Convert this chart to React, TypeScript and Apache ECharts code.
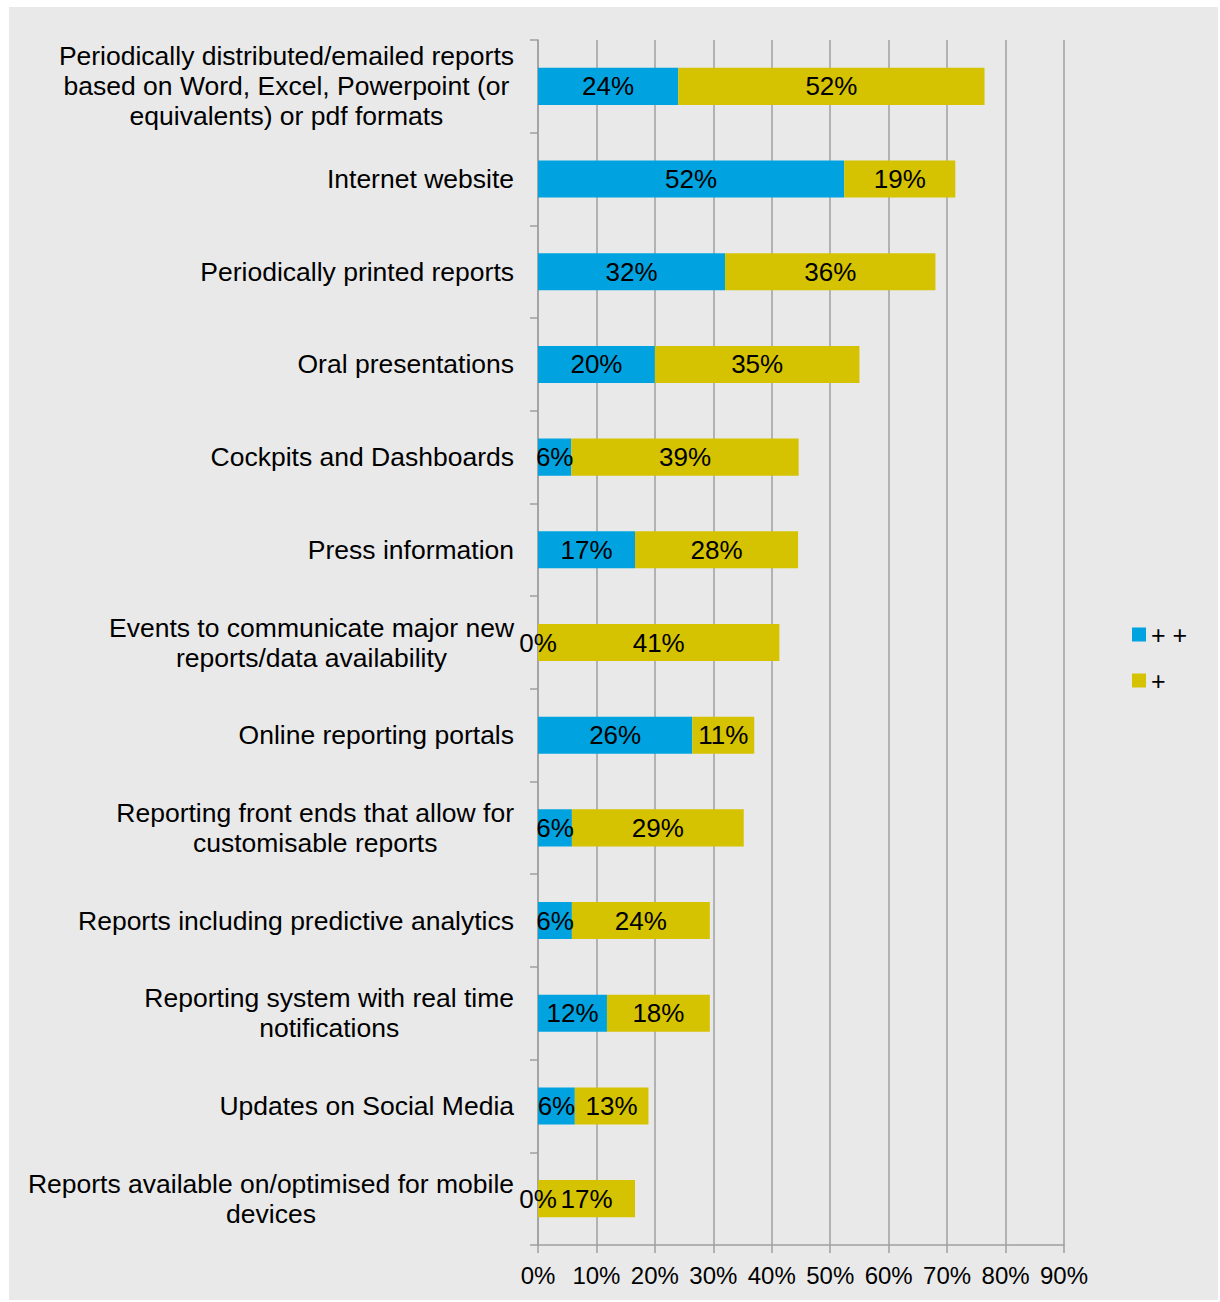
import React, { useEffect, useRef } from "react";
import * as echarts from "echarts";

const categories: string[] = [
  "Periodically distributed/emailed reports\nbased on Word, Excel, Powerpoint (or\nequivalents) or pdf formats",
  "Internet website",
  "Periodically printed reports",
  "Oral presentations",
  "Cockpits and Dashboards",
  "Press information",
  "Events to communicate major new\nreports/data availability",
  "Online reporting portals",
  "Reporting front ends that allow for\ncustomisable reports",
  "Reports including predictive analytics",
  "Reporting system with real time\nnotifications",
  "Updates on Social Media",
  "Reports available on/optimised for mobile\ndevices",
];

const seriesNames: string[] = ["+ +", "+"];
const veryUseful: number[] = [24.0, 52.4, 32.0, 20.0, 5.7, 16.6, 0, 26.4, 5.8, 5.8, 11.8, 6.3, 0];
const useful: number[] = [52.4, 19.0, 36.0, 35.0, 38.9, 27.9, 41.3, 10.6, 29.4, 23.6, 17.6, 12.6, 16.6];
const xTicks: number[] = [0, 10, 20, 30, 40, 50, 60, 70, 80, 90];

const FONT = "'Liberation Sans', Arial, sans-serif";
const GRID_COLOR = "#9f9f9f";

export default function App() {
  const ref = useRef<HTMLDivElement>(null);

  useEffect(() => {
    if (!ref.current) return;
    const chart = echarts.init(ref.current, undefined, { renderer: "svg" });
    const labelStyle = {
      show: true,
      position: "inside",
      color: "#000",
      fontSize: 26,
      fontFamily: FONT,
      formatter: (p: any) => `${Math.round(p.value)}%`,
    };
    chart.setOption({
      animation: false,
      backgroundColor: "#e9e9e9",
      textStyle: { fontFamily: FONT },
      grid: { left: 529, top: 33, right: 154, bottom: 55, containLabel: false },
      legend: {
        orient: "vertical",
        left: 1118,
        top: 610,
        itemWidth: 14,
        itemHeight: 14,
        itemGap: 21,
        icon: "rect",
        textStyle: { fontSize: 25, color: "#000", fontFamily: FONT },
        data: seriesNames,
      },
      xAxis: {
        type: "value",
        min: xTicks[0],
        max: xTicks[xTicks.length - 1],
        interval: 10,
        axisLine: { show: true, lineStyle: { color: GRID_COLOR, width: 1.5 } },
        axisTick: { show: true, length: 8, lineStyle: { color: GRID_COLOR, width: 1.5 } },
        splitLine: { show: true, lineStyle: { color: GRID_COLOR, width: 1.5 } },
        axisLabel: {
          formatter: (v: number) => `${v}%`,
          fontSize: 24,
          color: "#000",
          fontFamily: FONT,
          margin: 18,
        },
      },
      yAxis: {
        type: "category",
        inverse: true,
        data: categories,
        axisLine: { show: true, lineStyle: { color: GRID_COLOR, width: 1.5 } },
        axisTick: { show: true, length: 8, lineStyle: { color: GRID_COLOR, width: 1.5 } },
        axisLabel: {
          margin: 24,
          align: "right",
          color: "#000",
          fontSize: 26.5,
          fontFamily: FONT,
          lineHeight: 30,
          formatter: (v: string) =>
            v
              .split("\n")
              .map((l) => `{c|${l}}`)
              .join("\n"),
          rich: {
            c: {
              align: "center",
              fontSize: 26.5,
              lineHeight: 30,
              color: "#000",
              fontFamily: FONT,
            },
          },
        },
      },
      series: [
        {
          name: seriesNames[0],
          type: "bar",
          stack: "total",
          barCategoryGap: "60%",
          itemStyle: { color: "#00A3DF" },
          label: labelStyle,
          data: veryUseful,
        },
        {
          name: seriesNames[1],
          type: "bar",
          stack: "total",
          barCategoryGap: "60%",
          itemStyle: { color: "#D5C200" },
          label: labelStyle,
          data: useful,
        },
      ],
    });
    return () => chart.dispose();
  }, []);

  return (
    <div
      ref={ref}
      style={{ position: "absolute", left: 9, top: 7, width: 1209, height: 1293 }}
    />
  );
}
